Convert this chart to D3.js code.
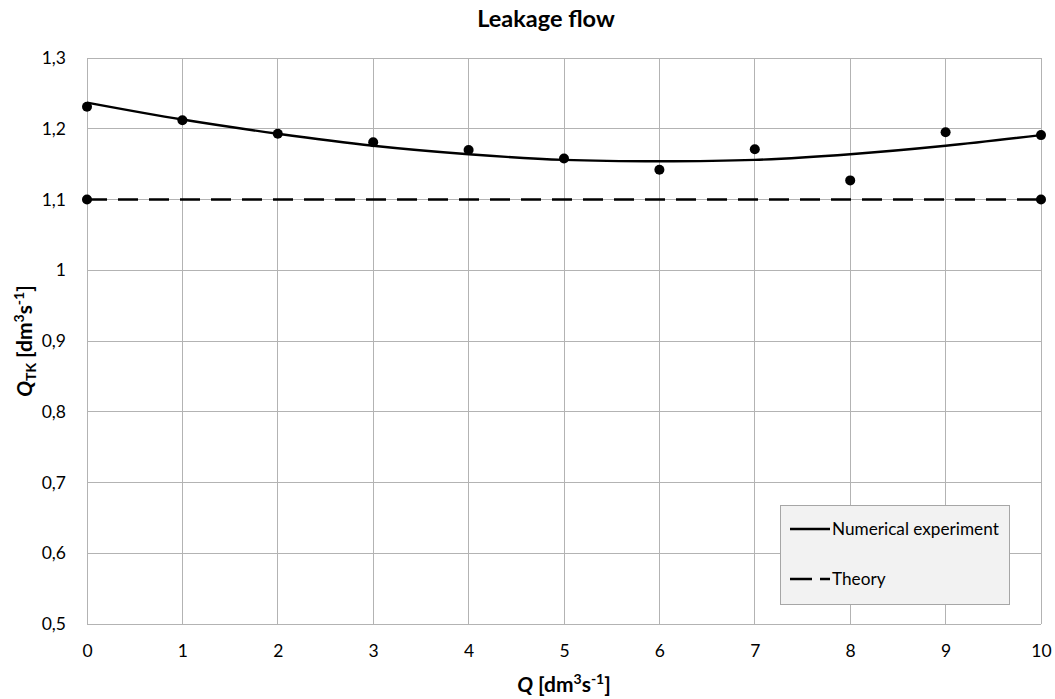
<!DOCTYPE html>
<html><head><meta charset="utf-8">
<script src="https://cdn.jsdelivr.net/npm/d3@7"></script>
<style>body{margin:0;background:#fff;} text{font-family:Lato,"Open Sans",sans-serif;}</style>
</head><body>
<svg id="c" width="1055" height="699"></svg>
<script>
const xTicks = [0,1,2,3,4,5,6,7,8,9,10];
const yTicks = [0.5,0.6,0.7,0.8,0.9,1.0,1.1,1.2,1.3];
const expX = [0,1,2,3,4,5,6,7,8,9,10];
const expY = [1.231,1.212,1.193,1.181,1.170,1.158,1.142,1.171,1.127,1.195,1.191];
const trendX = [0,1,2,3,4,5,6,7,8,9,10];
const trendY = [1.237,1.213,1.193,1.176,1.164,1.156,1.154,1.156,1.164,1.176,1.191];
const theoryX = [0,10];
const theoryY = [1.1,1.1];
const legendLabels = ["Numerical experiment","Theory"];

const svg = d3.select("#c");
const x = d3.scaleLinear().domain([0,10]).range([87,1041]);
const y = d3.scaleLinear().domain([0.5,1.3]).range([624,58]);
const fmt = d => d3.format("")(+d.toFixed(1)).replace(".",",");

// grid
svg.append("g").selectAll("line").data(xTicks).join("line")
  .attr("x1",d=>x(d)).attr("x2",d=>x(d)).attr("y1",y(1.3)).attr("y2",y(0.5))
  .attr("stroke","#b3b3b3").attr("stroke-width",1).attr("shape-rendering","crispEdges");
svg.append("g").selectAll("line").data(yTicks).join("line")
  .attr("x1",x(0)).attr("x2",x(10)).attr("y1",d=>y(d)).attr("y2",d=>y(d))
  .attr("stroke","#b3b3b3").attr("stroke-width",1).attr("shape-rendering","crispEdges");

// axes labels via d3 axes
const ax = svg.append("g").attr("transform",`translate(0,${y(0.5)})`)
  .call(d3.axisBottom(x).tickValues(xTicks).tickSize(0).tickPadding(21).tickFormat(d=>d));
ax.select(".domain").remove();
ax.selectAll("text").attr("font-size",17.5).attr("fill","#000").attr("font-family","Lato");
const ay = svg.append("g").attr("transform",`translate(${x(0)},0)`)
  .call(d3.axisLeft(y).tickValues(yTicks).tickSize(0).tickPadding(21).tickFormat(fmt));
ay.select(".domain").remove();
ay.selectAll("text").attr("font-size",17.5).attr("fill","#000").attr("font-family","Lato");

// theory dashed
const line = d3.line().x(d=>x(d[0])).y(d=>y(d[1]));
svg.append("path").datum(d3.zip(theoryX,theoryY)).attr("d",line)
  .attr("fill","none").attr("stroke","#000").attr("stroke-width",2.6).attr("stroke-dasharray","20,11");
// trend
svg.append("path").datum(d3.zip(trendX,trendY))
  .attr("d",d3.line().x(d=>x(d[0])).y(d=>y(d[1])).curve(d3.curveCatmullRom))
  .attr("fill","none").attr("stroke","#000").attr("stroke-width",2.4);
// points
svg.append("g").selectAll("circle").data(d3.zip(expX,expY)).join("circle")
  .attr("cx",d=>x(d[0])).attr("cy",d=>y(d[1])).attr("r",5).attr("fill","#000");
svg.append("g").selectAll("circle").data(d3.zip(theoryX,theoryY)).join("circle")
  .attr("cx",d=>x(d[0])).attr("cy",d=>y(d[1])).attr("r",5).attr("fill","#000");

// title
svg.append("text").attr("x",546).attr("y",27).attr("text-anchor","middle")
  .attr("font-size",23.5).attr("font-weight","bold").text("Leakage flow");

// x label
const xl = svg.append("text").attr("x",564).attr("y",692).attr("text-anchor","middle")
  .attr("font-size",21).attr("font-weight","bold");
xl.append("tspan").attr("font-style","italic").text("Q");
xl.append("tspan").text(" [dm");
xl.append("tspan").attr("font-size",14).attr("dy",-8).text("3");
xl.append("tspan").attr("dy",8).text("s");
xl.append("tspan").attr("font-size",14).attr("dy",-8).text("-1");
xl.append("tspan").attr("dy",8).text("]");

// y label
const yl = svg.append("text").attr("transform","translate(32,341) rotate(-90)").attr("text-anchor","middle")
  .attr("font-size",21).attr("font-weight","bold");
yl.append("tspan").attr("font-style","italic").text("Q");
yl.append("tspan").attr("font-size",14).attr("dy",4).text("TK");
yl.append("tspan").attr("dy",-4).text(" [dm");
yl.append("tspan").attr("font-size",14).attr("dy",-8).text("3");
yl.append("tspan").attr("dy",8).text("s");
yl.append("tspan").attr("font-size",14).attr("dy",-8).text("-1");
yl.append("tspan").attr("dy",8).text("]");

// legend
const lg = svg.append("g");
lg.append("rect").attr("x",780.5).attr("y",505.5).attr("width",229).attr("height",99)
  .attr("fill","#f2f2f2").attr("stroke","#a6a6a6").attr("stroke-width",1);
const ly = [529,579];
lg.append("line").attr("x1",790).attr("x2",830).attr("y1",ly[0]).attr("y2",ly[0]).attr("stroke","#000").attr("stroke-width",2.4);
lg.append("line").attr("x1",790).attr("x2",830).attr("y1",ly[1]).attr("y2",ly[1]).attr("stroke","#000").attr("stroke-width",2.6).attr("stroke-dasharray","22,8");
lg.selectAll("text.l").data(legendLabels).join("text").attr("class","l")
  .attr("x",832).attr("y",(d,i)=>ly[i]+6).attr("font-size",17.2).attr("fill","#000").text(d=>d);
</script>
</body></html>
